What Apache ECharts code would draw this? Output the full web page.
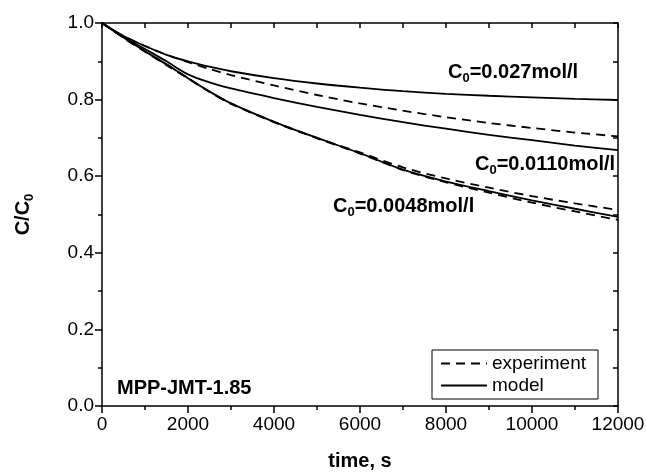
<!DOCTYPE html>
<html>
<head>
<meta charset="utf-8">
<script src="https://cdn.jsdelivr.net/npm/echarts@6/dist/echarts.min.js"></script>
<style>
  html, body { margin: 0; padding: 0; background: #fff; }
  #chart { width: 646px; height: 473px; }
</style>
</head>
<body>
<div id="chart"></div>
<script>
// time, s
var tempo = [0, 500, 1000, 1500, 2000, 2500, 3000, 4000, 5000, 6000, 7000, 8000, 9000, 10000, 11000, 12000];

// C/C0
var model_027  = [1.0, 0.966, 0.940, 0.917, 0.900, 0.886, 0.874, 0.856, 0.842, 0.831, 0.822, 0.815, 0.810, 0.806, 0.802, 0.799];
var exp_027    = [1.0, 0.966, 0.940, 0.917, 0.898, 0.880, 0.864, 0.837, 0.812, 0.790, 0.771, 0.754, 0.739, 0.726, 0.714, 0.704];
var model_0110 = [1.0, 0.964, 0.932, 0.900, 0.866, 0.845, 0.829, 0.804, 0.781, 0.760, 0.741, 0.724, 0.708, 0.694, 0.680, 0.668];
var exp_0110   = [1.0, 0.962, 0.926, 0.892, 0.856, 0.821, 0.790, 0.742, 0.700, 0.662, 0.623, 0.594, 0.570, 0.548, 0.529, 0.512];
var model_0048 = [1.0, 0.962, 0.926, 0.892, 0.856, 0.821, 0.790, 0.742, 0.700, 0.660, 0.617, 0.586, 0.561, 0.537, 0.515, 0.494];
var exp_0048   = [1.0, 0.961, 0.925, 0.890, 0.855, 0.820, 0.789, 0.741, 0.699, 0.659, 0.616, 0.584, 0.557, 0.531, 0.508, 0.486];

var fonte = 'Liberation Sans, Arial, sans-serif';

function pares(y) {
    var r = [];
    for (var i = 0; i < tempo.length; i++) {
        r.push([tempo[i], y[i]]);
    }
    return r;
}

function linha(nome, y, tracejado) {
    return {
        name: nome,
        type: 'line',
        xAxisIndex: 0,
        yAxisIndex: 0,
        data: pares(y),
        symbol: 'none',
        smooth: 0.3,
        lineStyle: { color: '#000', width: 1.8, type: tracejado ? [9, 6] : 'solid' },
        itemStyle: { color: '#000' },
        z: tracejado ? 3 : 2
    };
}

var richBold = {
    a: { fontFamily: fonte, fontWeight: 'bold', fontSize: 20, color: '#000' },
    s: { fontFamily: fonte, fontWeight: 'bold', fontSize: 13, color: '#000', padding: [12, 0, 0, 0] }
};

function rotulo(x, y, texto) {
    return {
        type: 'text',
        left: x,
        top: y,
        z: 10,
        style: { text: texto, rich: richBold }
    };
}

var chart = echarts.init(document.getElementById('chart'));
chart.setOption({
    animation: false,
    backgroundColor: '#fff',
    grid: { left: 102, right: 28, top: 23, bottom: 67, outerBoundsMode: 'none', containLabel: false },
    legend: {
        data: ['experiment', 'model'],
        orient: 'vertical',
        left: 432,
        top: 350,
        padding: [4, 12, 4, 8],
        itemGap: 3,
        itemWidth: 46,
        itemHeight: 18,
        borderColor: '#000',
        borderWidth: 1,
        backgroundColor: '#fff',
        itemStyle: { opacity: 0 },
        textStyle: { fontFamily: fonte, fontSize: 19, color: '#000' }
    },
    xAxis: [{
        type: 'value',
        min: 0, max: 12000, interval: 2000,
        name: 'time, s',
        nameLocation: 'middle',
        nameGap: 45,
        nameTextStyle: { fontFamily: fonte, fontWeight: 'bold', fontSize: 20, color: '#000' },
        axisLine: { onZero: false, lineStyle: { color: '#000', width: 1.5 } },
        axisTick: { inside: false, length: 7, lineStyle: { color: '#000', width: 1.5 } },
        minorTick: { show: true, splitNumber: 2, length: 4, lineStyle: { color: '#000', width: 1.5 } },
        axisLabel: {
            fontFamily: fonte, fontSize: 19, color: '#000', margin: 9,
            formatter: function (v) { return String(v); }
        },
        splitLine: { show: false }
    }, {
        type: 'value',
        position: 'top',
        min: 0, max: 12000, interval: 1000,
        axisLine: { onZero: false, lineStyle: { color: '#000', width: 1.5 } },
        axisTick: { inside: true, length: 5, lineStyle: { color: '#000', width: 1.5 } },
        axisLabel: { show: false },
        splitLine: { show: false }
    }],
    yAxis: [{
        type: 'value',
        min: 0, max: 1, interval: 0.2,
        name: '{a|C/C}{s|0}',
        nameLocation: 'middle',
        nameGap: 66,
        nameTextStyle: { rich: richBold },
        axisLine: { onZero: false, lineStyle: { color: '#000', width: 1.5 } },
        axisTick: { inside: false, length: 7, lineStyle: { color: '#000', width: 1.5 } },
        minorTick: { show: true, splitNumber: 2, length: 4, lineStyle: { color: '#000', width: 1.5 } },
        axisLabel: {
            fontFamily: fonte, fontSize: 19, color: '#000', margin: 8,
            formatter: function (v) { return v.toFixed(1); }
        },
        splitLine: { show: false }
    }, {
        type: 'value',
        position: 'right',
        min: 0, max: 1, interval: 0.1,
        axisLine: { onZero: false, lineStyle: { color: '#000', width: 1.5 } },
        axisTick: { inside: true, length: 5, lineStyle: { color: '#000', width: 1.5 } },
        axisLabel: { show: false },
        splitLine: { show: false }
    }],
    graphic: [
        rotulo(448, 62, '{a|C}{s|0}{a|=0.027mol/l}'),
        rotulo(475, 154, '{a|C}{s|0}{a|=0.0110mol/l}'),
        rotulo(333, 196, '{a|C}{s|0}{a|=0.0048mol/l}'),
        {
            type: 'text', left: 117, top: 378, z: 10,
            style: { text: 'MPP-JMT-1.85', fontFamily: fonte, fontWeight: 'bold', fontSize: 20, fill: '#000' }
        }
    ],
    series: [
        linha('model', model_027, false),
        linha('experiment', exp_027, true),
        linha('model', model_0110, false),
        linha('experiment', exp_0110, true),
        linha('model', model_0048, false),
        linha('experiment', exp_0048, true)
    ]
});
</script>
</body>
</html>
